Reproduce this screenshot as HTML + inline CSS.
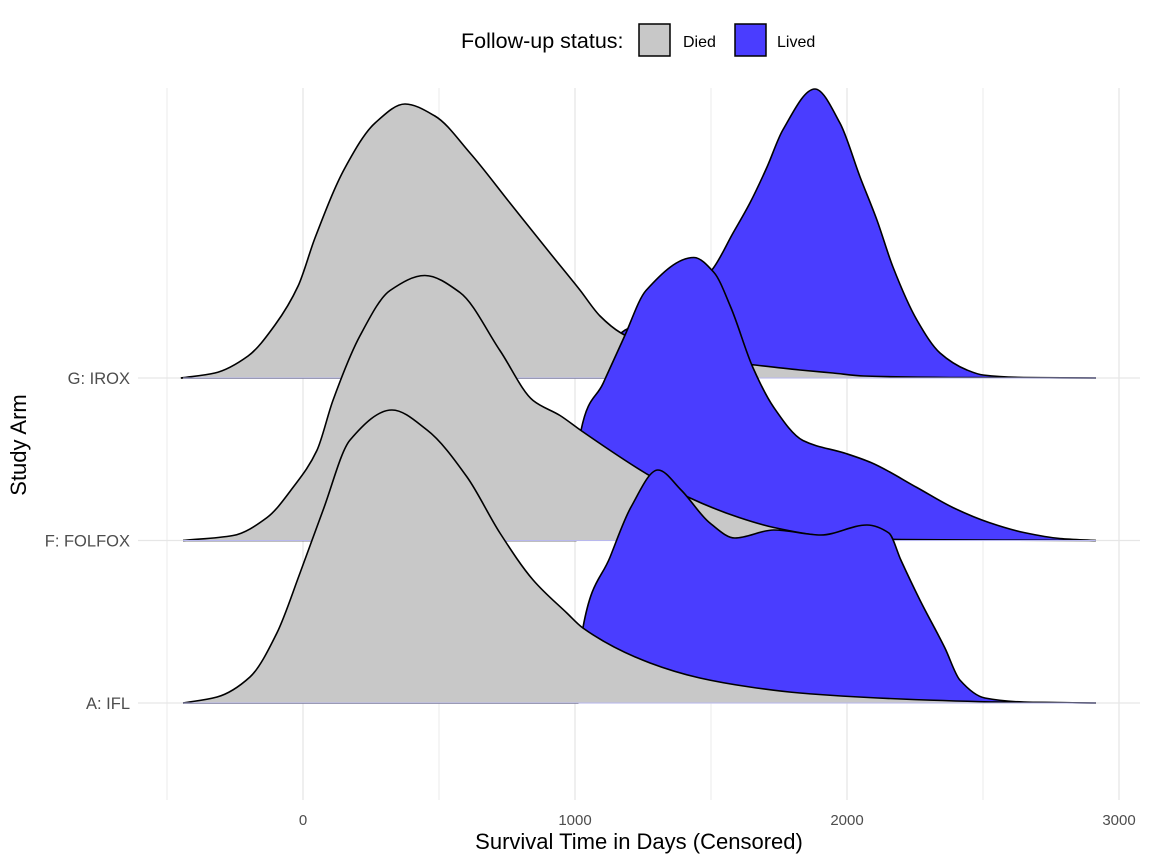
<!DOCTYPE html>
<html><head><meta charset="utf-8"><style>
html,body{margin:0;padding:0;background:#fff;}
svg{display:block;font-family:"Liberation Sans",Arial,sans-serif;}
</style></head><body>
<svg id="chart" width="1152" height="864" viewBox="0 0 1152 864">
<g id="grid"></g>
<g id="ridges"></g>
<g id="axes"></g>
<g>
<text x="461" y="48" font-size="21.5" fill="#000">Follow-up status:</text>
<rect x="639" y="24" width="31" height="32" fill="#c8c8c8" stroke="#000" stroke-width="1.5"/>
<text x="683" y="47" font-size="16" fill="#000">Died</text>
<rect x="735" y="24" width="31" height="32" fill="#4a3dff" stroke="#000" stroke-width="1.5"/>
<text x="777" y="47" font-size="16" fill="#000">Lived</text>
</g>
<text x="639" y="849" font-size="22" text-anchor="middle" fill="#000">Survival Time in Days (Censored)</text>
<text transform="translate(26,445) rotate(-90)" font-size="22" text-anchor="middle" fill="#000">Study Arm</text>
</svg>
<script>
const categories = ["A: IFL", "F: FOLFOX", "G: IROX"];
const xTicks = [0, 1000, 2000, 3000];
const xMinor = [-500, 500, 1500, 2500];
const G_died_x = [-449,-324,-202,-103,-18,44,154,265,375,485,614,761,908,1018,1092,1169,1312,1459,1662,1827,1948,2062,2378,2915];
const G_died_y = [0,.05,.22,.53,.92,1.40,2.10,2.55,2.74,2.62,2.25,1.75,1.25,.88,.62,.45,.28,.20,.13,.08,.05,.02,.005,0];
const G_lived_x = [-449,1110,1169,1276,1503,1581,1643,1706,1764,1882,1974,2048,2110,2169,2257,2342,2441,2500,2650,2915];
const G_lived_y = [0,0,.45,.58,1.08,1.45,1.75,2.11,2.48,2.89,2.55,2.01,1.58,1.11,.58,.25,.08,.03,.005,0];
const F_died_x = [-441,-257,-132,-37,51,110,210,320,448,577,724,846,945,1022,1261,1419,1603,1731,1904,2200,2915];
const F_died_y = [0,.05,.23,.53,.90,1.40,2.05,2.50,2.65,2.48,1.90,1.40,1.25,1.10,.67,.43,.23,.13,.05,.01,0];
const F_lived_x = [-441,1005,1022,1103,1180,1261,1437,1511,1573,1654,1731,1838,1996,2088,2257,2389,2522,2650,2783,2915];
const F_lived_y = [0,0,1.10,1.57,2.03,2.50,2.83,2.68,2.33,1.73,1.33,1.00,.87,.78,.53,.33,.18,.08,.02,0];
const A_died_x = [-441,-316,-195,-96,-11,74,173,327,456,603,724,846,970,1029,1276,1459,1643,1827,2198,2562,2915];
const A_died_y = [0,.06,.26,.70,1.30,1.93,2.63,2.93,2.73,2.26,1.70,1.23,.90,.75,.40,.25,.16,.10,.04,.01,0];
const A_lived_x = [-441,1012,1029,1129,1206,1305,1390,1496,1588,1731,1904,2073,2154,2198,2268,2360,2415,2507,2650,2915];
const A_lived_y = [0,0,.75,1.46,1.96,2.33,2.13,1.80,1.65,1.73,1.68,1.78,1.70,1.43,1.03,.55,.23,.05,.01,0];

const NS = "http://www.w3.org/2000/svg";
const X = d => 303 + d * 0.272;
const Ybase = i => 703 - i * 162.5;
const H = v => v * 100;

function mk(tag, attrs, parent){ const e=document.createElementNS(NS,tag); for(const k in attrs) e.setAttribute(k,attrs[k]); parent.appendChild(e); return e; }

function curvePath(xs, ys, base){
  const px = xs.map(X), py = ys.map(v=>base-H(v));
  const n = px.length, dl=[], m=[];
  for(let i=0;i<n-1;i++) dl.push((py[i+1]-py[i])/(px[i+1]-px[i]));
  m[0]=dl[0]; m[n-1]=dl[n-2];
  for(let i=1;i<n-1;i++){
    if(dl[i-1]*dl[i]<=0) m[i]=0;
    else { const h0=px[i]-px[i-1], h1=px[i+1]-px[i];
      const w1=2*h1+h0, w2=h1+2*h0; m[i]=(w1+w2)/(w1/dl[i-1]+w2/dl[i]); }
  }
  let d='M'+px[0].toFixed(2)+','+py[0].toFixed(2);
  for(let i=0;i<n-1;i++){
    const h=(px[i+1]-px[i])/3;
    d+='C'+(px[i]+h).toFixed(2)+','+(py[i]+m[i]*h).toFixed(2)+' '+(px[i+1]-h).toFixed(2)+','+(py[i+1]-m[i+1]*h).toFixed(2)+' '+px[i+1].toFixed(2)+','+py[i+1].toFixed(2);
  }
  return d;
}

const grid=document.getElementById('grid');
xMinor.forEach(v=>{
  const l=mk('line',{x1:X(v),x2:X(v),y1:88,y2:800,stroke:'#ebebeb','stroke-width':1},grid);
  
  
});
xTicks.forEach(v=>{
  const l=mk('line',{x1:X(v),x2:X(v),y1:88,y2:800,stroke:'#e6e6e6','stroke-width':1.3},grid);
  
  
});
categories.forEach((c,i)=>{
  const l=mk('line',{x1:138,x2:1140,y1:Ybase(i),y2:Ybase(i),stroke:'#e6e6e6','stroke-width':1.3},grid);
  
  
});

const rows=[[A_died_x,A_died_y,A_lived_x,A_lived_y],[F_died_x,F_died_y,F_lived_x,F_lived_y],[G_died_x,G_died_y,G_lived_x,G_lived_y]];
const ridges=document.getElementById('ridges');
for(let i=rows.length-1;i>=0;i--){
  const base=Ybase(i);
  const [dx,dy,lx,ly]=rows[i];
  const g=mk('g',{},ridges);
  
  
  const series=[[lx,ly,'#4a3dff','lived'],[dx,dy,'#c8c8c8','died']];
  series.forEach(([xs,ys,col,nm])=>{
    const d=curvePath(xs,ys,base);
    const f=mk('path',{d:d+'L'+X(xs[xs.length-1])+','+base+'L'+X(xs[0])+','+base+'Z',fill:col,stroke:'none'},g);
    
    
    const s=mk('path',{d:d,fill:'none',stroke:'#000','stroke-width':1.6},g);
    
    
  });
  const bl=mk('line',{x1:X(-441),x2:X(2915),y1:base,y2:base,stroke:'#b8b8ee','stroke-width':1},g);
  
  
}

const axes=document.getElementById('axes');
xTicks.forEach(v=>{
  const t=mk('text',{x:X(v),y:825,'font-size':15,'text-anchor':'middle',fill:'#4d4d4d'},axes);
  t.textContent=v;
  
  
});
categories.forEach((c,i)=>{
  const t=mk('text',{x:130,y:Ybase(i)+6,'font-size':16.5,'text-anchor':'end',fill:'#4d4d4d'},axes);
  t.textContent=c;
  
  
});
</script>
</body></html>
